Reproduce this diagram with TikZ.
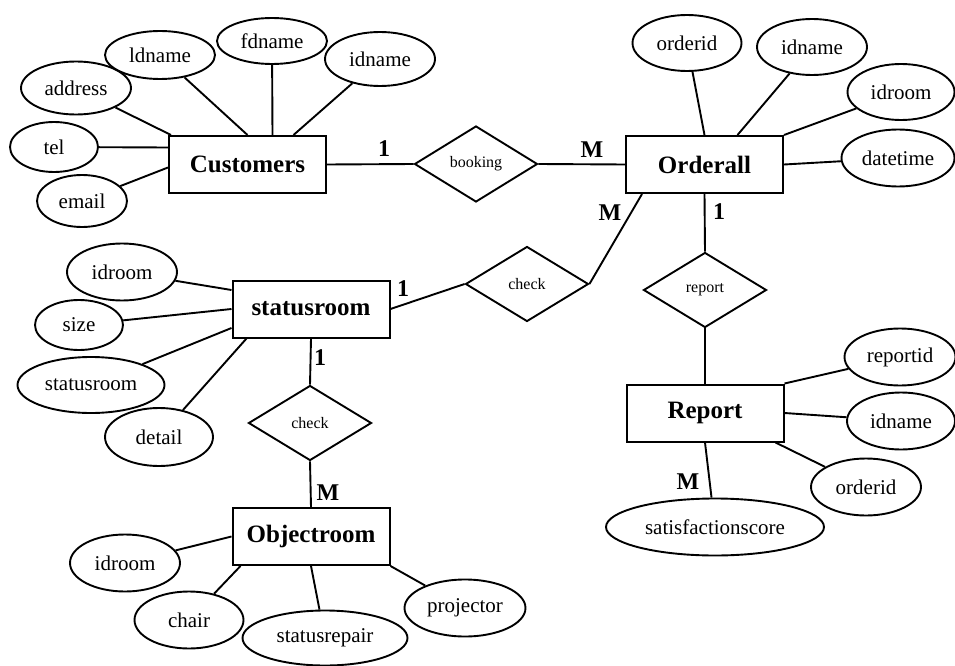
\documentclass[tikz,border=0pt]{standalone}
\usepackage{fontspec}
\setmainfont{Liberation Serif}
\usetikzlibrary{shapes.geometric}
\begin{document}
\begin{tikzpicture}[x=1pt,y=-1pt,
  every node/.style={inner sep=0pt},
  entity/.style={draw, line width=2pt, rectangle, minimum width=157pt,
    minimum height=57pt, font=\fontsize{25}{28}\selectfont\bfseries},
  attr/.style={draw, line width=1.9pt, ellipse, minimum width=110pt,
    minimum height=56pt, font=\fontsize{21}{24}\selectfont},
  rel/.style={draw, line width=1.9pt, diamond, minimum width=123pt,
    minimum height=75pt, font=\fontsize{16}{18}\selectfont},
  card/.style={font=\fontsize{24}{26}\selectfont\bfseries},
  link/.style={line width=1.9pt}]

\fill[white] (0,0) rectangle (955,666);
\useasboundingbox (0,0) rectangle (955,666);

% entities
\node[entity] (cust) at (247.5,164.5) {Customers};
\node[entity] (ord)  at (704.5,164.5) {Orderall};
\node[entity] (sr)   at (311,309) {statusroom};
\node[entity] (obj)  at (311,536.5) {Objectroom};
\node[entity] (rep)  at (705,413) {Report};

% relationships
\node[rel, minimum height=76pt] (booking) at (476,164) {booking};
\node[rel] (checkA) at (527,284) {check};
\node[rel] (report) at (705,290) {report};
\node[rel] (checkB) at (310,423) {check};

% attributes of Customers
\node[attr, minimum height=48pt] (c1) at (160,55) {ldname};
\node[attr, minimum height=46pt] (c2) at (272,41) {fdname};
\node[attr, minimum height=54pt] (c3) at (380,59) {idname};
\node[attr, minimum height=53pt] (c4) at (76,88) {address};
\node[attr, minimum width=88pt, minimum height=50pt] (c5) at (54,147) {tel};
\node[attr, minimum width=90pt, minimum height=52pt] (c6) at (82,201) {email};

% attributes of Orderall
\node[attr, minimum width=109pt] (o1) at (687,43) {orderid};
\node[attr] (o2) at (812,47) {idname};
\node[attr, minimum width=107pt] (o3) at (901,92) {idroom};
\node[attr, minimum width=113pt, minimum height=57pt] (o4) at (898,158) {datetime};

% attributes of statusroom
\node[attr, minimum height=57pt] (s1) at (122,272) {idroom};
\node[attr, minimum width=88pt, minimum height=50pt] (s2) at (79,325) {size};
\node[attr, minimum width=147pt] (s3) at (91,385) {statusroom};
\node[attr, minimum width=108pt, minimum height=58pt] (s4) at (159,437) {detail};

% attributes of Objectroom
\node[attr, minimum height=57pt] (b1) at (125,563) {idroom};
\node[attr, minimum width=109pt, minimum height=57pt] (b2) at (189,620) {chair};
\node[attr, minimum width=165pt, minimum height=55pt] (b3) at (325,638) {statusrepair};
\node[attr, minimum width=121pt, minimum height=57pt] (b4) at (465,608) {projector};

% attributes of Report
\node[attr, minimum width=111pt, minimum height=57pt] (r1) at (900,357) {reportid};
\node[attr, minimum width=108pt, minimum height=57pt] (r2) at (901,421) {idname};
\node[attr, minimum height=57pt] (r3) at (866,487) {orderid};
\node[attr, minimum width=218pt, minimum height=57pt] (r4) at (715,527) {satisfactionscore};

% attribute links
\draw[link] (c1) -- (cust.north);
\draw[link] (c2) -- ([xshift=25pt]cust.north);
\draw[link] (c3) -- ([xshift=46pt]cust.north);
\draw[link] (c4) -- ([xshift=3pt]cust.north west);
\draw[link] (c5) -- ([yshift=17pt]cust.west);
\draw[link] (c6) -- ([yshift=-3pt]cust.west);

\draw[link] (o1) -- (ord.north);
\draw[link] (o2) -- ([xshift=33pt]ord.north);
\draw[link] (o3) -- (ord.north east);
\draw[link] (o4) -- (ord.east);

\draw[link] (s1) -- ([yshift=19pt]sr.west);
\draw[link] (s2) -- (sr.west);
\draw[link] (s3) -- ([yshift=-19pt]sr.west);
\draw[link] (s4) -- ([xshift=15pt]sr.south west);

\draw[link] (b1) -- (obj.west);
\draw[link] (b2) -- ([xshift=9pt]obj.south west);
\draw[link] (b3) -- (obj.south);
\draw[link] (b4) -- (obj.south east);

\draw[link] (r1) -- (rep.north east);
\draw[link] (r2) -- (rep.east);
\draw[link] (r3) -- ([xshift=-9pt]rep.south east);
\draw[link] (r4) -- (rep.south);

% relationship links
\draw[link] (cust.east) -- (booking.west);
\draw[link] (booking.east) -- (ord.west);
\draw[link] ([xshift=17pt]ord.south west) -- (checkA.east);
\draw[link] (sr.east) -- (checkA.west);
\draw[link] (ord.south) -- (report.north);
\draw[link] (report.south) -- (rep.north);
\draw[link] (sr.south) -- (checkB.north);
\draw[link] (checkB.south) -- (obj.north);

% cardinalities
\node[card] (k1) at (384,149) {1};
\node[card] (k2) at (592,150) {M};
\node[card] (k3) at (610,213) {M};
\node[card] (k4) at (719,212) {1};
\node[card] (k5) at (403,289) {1};
\node[card] (k6) at (320,358) {1};
\node[card] (k7) at (328,493) {M};
\node[card] (k8) at (688,482) {M};
\end{tikzpicture}
\end{document}
